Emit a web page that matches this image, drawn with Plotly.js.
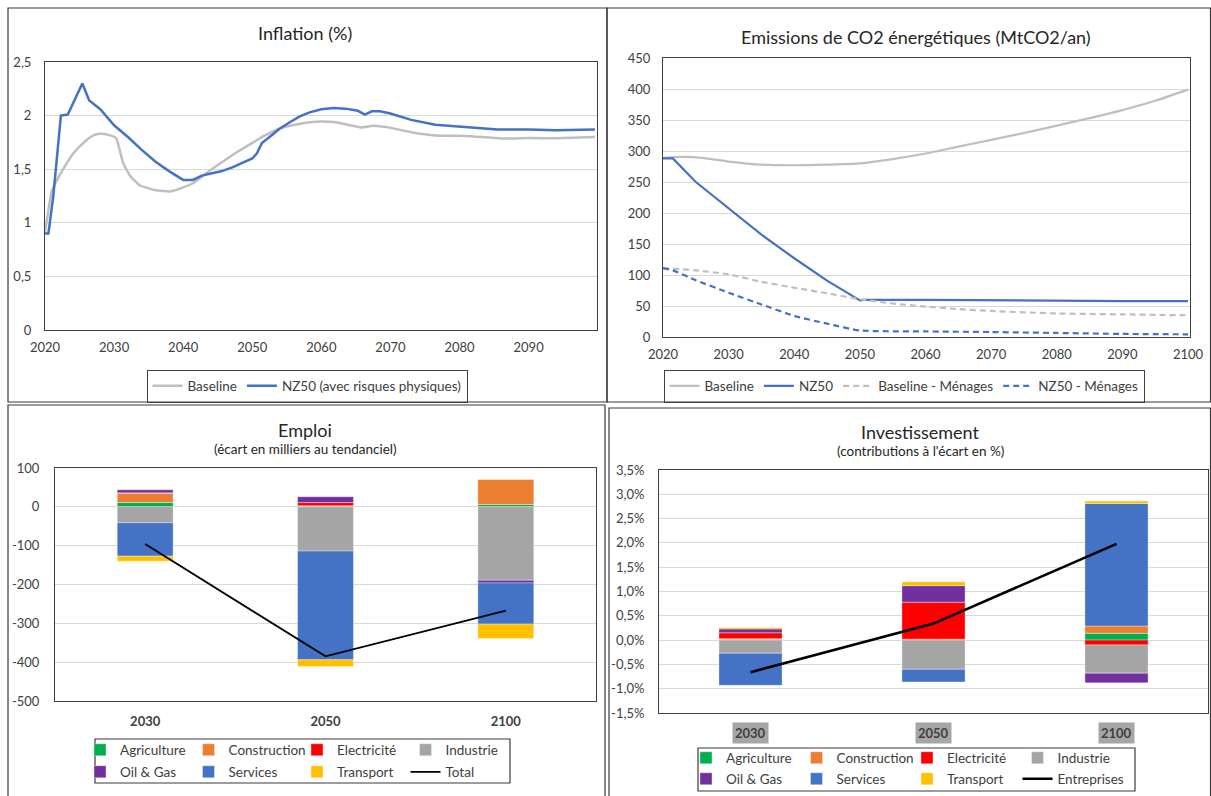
<!DOCTYPE html>
<html><head><meta charset="utf-8">
<script src="https://cdn.plot.ly/plotly-3.0.1.min.js"></script>
<style>html,body{margin:0;padding:0;background:#fff}#chart{width:1211px;height:796px}</style>
</head><body><div id="chart"></div>
<script>
// ---------- Inflation (%) ----------
var infYearsBase = [2020, 2021, 2022, 2023, 2024, 2025, 2026, 2027, 2028, 2029.2, 2030.3, 2031.3, 2032.3, 2033.7, 2035.9, 2038.2, 2040, 2041.6, 2043.5, 2045.5, 2047.8, 2050, 2051.7, 2054, 2056.2, 2058, 2060, 2061.8, 2063.5, 2065.8, 2067.5, 2069.7, 2073, 2076.5, 2081, 2086, 2090, 2094, 2099.6];
var infBase = [0.91, 1.30, 1.43, 1.54, 1.64, 1.71, 1.77, 1.815, 1.83, 1.82, 1.79, 1.56, 1.44, 1.35, 1.305, 1.293, 1.33, 1.376, 1.47, 1.56, 1.66, 1.745, 1.81, 1.88, 1.915, 1.935, 1.946, 1.94, 1.92, 1.89, 1.905, 1.89, 1.845, 1.815, 1.81, 1.786, 1.79, 1.789, 1.80];
var infYearsNZ = [2020, 2020.5, 2021.2, 2022.3, 2023.3, 2025.4, 2026.4, 2028, 2030, 2032, 2034, 2036, 2038, 2040, 2041.4, 2042.7, 2044, 2045.5, 2047.2, 2048.6, 2050, 2050.7, 2051.4, 2052.5, 2054, 2055.5, 2056.8, 2058.3, 2060, 2061.8, 2063.5, 2065.3, 2066.3, 2067.3, 2068.5, 2070, 2073, 2076.5, 2080, 2085.5, 2090, 2094, 2099.6];
var infNZ = [0.9, 0.9, 1.25, 2.0, 2.01, 2.30, 2.14, 2.06, 1.91, 1.80, 1.68, 1.57, 1.48, 1.40, 1.40, 1.44, 1.46, 1.48, 1.52, 1.56, 1.60, 1.65, 1.745, 1.80, 1.88, 1.94, 1.99, 2.03, 2.06, 2.07, 2.065, 2.045, 2.01, 2.04, 2.04, 2.02, 1.96, 1.915, 1.90, 1.87, 1.87, 1.863, 1.87];
var infXTicks = [2020, 2030, 2040, 2050, 2060, 2070, 2080, 2090];
var infYTicks = [0, 0.5, 1, 1.5, 2, 2.5];
var infYTickText = ['0', '0,5', '1', '1,5', '2', '2,5'];

// ---------- Emissions de CO2 (MtCO2/an) ----------
var emiYearsBase = [2020, 2023, 2026, 2030, 2035, 2040, 2045, 2050, 2055, 2060, 2065, 2070, 2075, 2080, 2085, 2090, 2095, 2100];
var emiBase = [289, 290.5, 289, 283, 278, 277, 278, 280, 287, 296, 307, 318, 329, 341, 353, 366, 381, 399];
var emiYearsNZ = [2020, 2021.5, 2025, 2030, 2035, 2040, 2045, 2050, 2050.5, 2060, 2070, 2080, 2090, 2100];
var emiNZ = [288, 288, 250, 207, 165, 127, 91, 59, 60, 60, 59, 58, 58, 58];
var emiYearsBaseMen = [2020, 2025, 2030, 2035, 2040, 2045, 2050, 2055, 2060, 2065, 2070, 2080, 2090, 2100];
var emiBaseMen = [111, 107.5, 101, 89, 79.5, 70.5, 61, 54, 49, 45, 42, 38, 36.5, 35];
var emiYearsNZMen = [2020, 2021.5, 2025, 2030, 2035, 2040, 2045, 2050, 2060, 2070, 2080, 2090, 2100];
var emiNZMen = [111, 107.5, 91.5, 71.5, 52.5, 34, 21.5, 10.5, 9, 8, 6.5, 5, 4.3];
var emiXTicks = [2020, 2030, 2040, 2050, 2060, 2070, 2080, 2090, 2100];
var emiYTicks = [0, 50, 100, 150, 200, 250, 300, 350, 400, 450];

// ---------- Sectors ----------
var sectorNames = ['Agriculture', 'Construction', 'Electricité', 'Industrie', 'Oil & Gas', 'Services', 'Transport'];
var sectorColors = ['#00B050', '#ED7D31', '#FF0000', '#A5A5A5', '#7030A0', '#4472C4', '#FFC000'];

// ---------- Emploi (milliers) ----------
var empCats = ['2030', '2050', '2100'];
var empAgri = [11, 2, 6];
var empConstr = [24, 1, 65];
var empElec = [1, 8, 0];
var empIndus = [-41, -114, -189];
var empOil = [8, 15, -7];
var empServ = [-86, -280, -106];
var empTrans = [-13, -17, -37];
var empTotal = [-96, -385, -267];
var empYTicks = [-500, -400, -300, -200, -100, 0, 100];
var empYTickText = ['-500', '-400', '-300', '-200', '-100', '0', '100'];

// ---------- Investissement (% écart) ----------
var invCats = ['2030', '2050', '2100'];
var invAgri = [0.01, 0.0, 0.14];
var invConstr = [0.02, 0.02, 0.15];
var invElec = [0.12, 0.76, -0.10];
var invIndus = [-0.27, -0.60, -0.58];
var invOil = [0.08, 0.34, -0.20];
var invServ = [-0.66, -0.26, 2.52];
var invTrans = [0.03, 0.08, 0.05];
var invTotal = [-0.66, 0.34, 1.98];
var invYTicks = [-1.5, -1.0, -0.5, 0.0, 0.5, 1.0, 1.5, 2.0, 2.5, 3.0, 3.5];

// ---------- helpers ----------
var W = 1211, H = 796;
function px(x) { return x / W; }
function py(y) { return 1 - y / H; }
var FONT = 'Lato, "Liberation Sans", sans-serif';
var TXT = '#404040';
var GRID = '#d9d9d9';
var AXL = '#404040';
var GRAY = '#bfbfbf';
var BLUE = '#4472C4';

var traces = [];
// Inflation
traces.push({x: infYearsBase, y: infBase, type: 'scatter', mode: 'lines', name: 'Baseline',
  line: {color: GRAY, width: 2.5, shape: 'spline', smoothing: 0.4}, xaxis: 'x', yaxis: 'y', legend: 'legend'});
traces.push({x: infYearsNZ, y: infNZ, type: 'scatter', mode: 'lines', name: 'NZ50 (avec risques physiques)',
  line: {color: BLUE, width: 2.5}, xaxis: 'x', yaxis: 'y', legend: 'legend'});
// Emissions
traces.push({x: emiYearsBase, y: emiBase, type: 'scatter', mode: 'lines', name: 'Baseline',
  line: {color: GRAY, width: 2.2, shape: 'spline', smoothing: 0.6}, xaxis: 'x2', yaxis: 'y2', legend: 'legend2'});
traces.push({x: emiYearsNZ, y: emiNZ, type: 'scatter', mode: 'lines', name: 'NZ50',
  line: {color: BLUE, width: 2.2}, xaxis: 'x2', yaxis: 'y2', legend: 'legend2'});
traces.push({x: emiYearsBaseMen, y: emiBaseMen, type: 'scatter', mode: 'lines', name: 'Baseline - Ménages',
  line: {color: GRAY, width: 2.2, dash: '6px,4px', shape: 'spline', smoothing: 0.6}, xaxis: 'x2', yaxis: 'y2', legend: 'legend2'});
traces.push({x: emiYearsNZMen, y: emiNZMen, type: 'scatter', mode: 'lines', name: 'NZ50 - Ménages',
  line: {color: BLUE, width: 2.2, dash: '6px,4px', shape: 'spline', smoothing: 0.5}, xaxis: 'x2', yaxis: 'y2', legend: 'legend2'});

// Emploi bars
var empSeries = [empAgri, empConstr, empElec, empIndus, empOil, empServ, empTrans];
empSeries.forEach(function (vals, i) {
  traces.push({x: empCats, y: vals, type: 'bar', name: sectorNames[i], width: 0.31,
    marker: {color: sectorColors[i], line: {color: 'rgba(255,255,255,0.6)', width: 0.6}},
    xaxis: 'x3', yaxis: 'y3', legend: i < 4 ? 'legend3' : 'legend4'});
});
traces.push({x: empCats, y: empTotal, type: 'scatter', mode: 'lines', name: 'Total',
  line: {color: '#000000', width: 1.8}, xaxis: 'x3', yaxis: 'y3', legend: 'legend4'});

// Investissement bars
var invSeries = [invAgri, invConstr, invElec, invIndus, invOil, invServ, invTrans];
invSeries.forEach(function (vals, i) {
  traces.push({x: invCats, y: vals, type: 'bar', name: sectorNames[i], width: 0.345,
    marker: {color: sectorColors[i], line: {color: 'rgba(255,255,255,0.6)', width: 0.6}},
    xaxis: 'x4', yaxis: 'y4', legend: i < 4 ? 'legend5' : 'legend6'});
});
traces.push({x: invCats, y: invTotal, type: 'scatter', mode: 'lines', name: 'Entreprises',
  line: {color: '#000000', width: 2.6}, xaxis: 'x4', yaxis: 'y4', legend: 'legend6'});

function axisBase(extra) {
  var a = {showline: true, mirror: true, linecolor: AXL, linewidth: 1, zeroline: false, ticks: '',
    tickfont: {size: 13, color: TXT, family: FONT}, fixedrange: true, automargin: false};
  for (var k in extra) a[k] = extra[k];
  return a;
}

function legendBase(extra) {
  var l = {orientation: 'h', font: {size: 13.5, color: TXT, family: FONT}, bgcolor: 'rgba(0,0,0,0)',
    bordercolor: AXL, borderwidth: 0, itemclick: false, itemdoubleclick: false, traceorder: 'normal'};
  for (var k in extra) l[k] = extra[k];
  return l;
}

var invTickText = invYTicks.map(function (v) { return v.toFixed(1).replace('.', ',') + '%'; });

function title(text, x, y, size) {
  return {text: text, x: px(x), y: py(y), xref: 'paper', yref: 'paper', xanchor: 'center', yanchor: 'middle',
    showarrow: false, font: {size: size, color: '#262626', family: FONT}};
}
var annotations = [
  title('Inflation (%)', 305, 33, 18),
  title('Emissions de CO2 énergétiques (MtCO2/an)', 916, 37, 18),
  title('Emploi', 305, 430, 18),
  title('(écart en milliers au tendanciel)', 305, 449, 13.5),
  title('Investissement', 920, 432, 18),
  title("(contributions à l'écart en %)", 920, 451, 13.5)
];
invCats.forEach(function (c, i) {
  annotations.push({text: '<b>' + c + '</b>', x: i, y: py(733), xref: 'x4', yref: 'paper', xanchor: 'center', yanchor: 'middle',
    showarrow: false, bgcolor: '#a6a6a6', borderpad: 2, font: {size: 13, color: TXT, family: FONT}});
});

function rect(x0, y0, x1, y1) {
  return {type: 'rect', xref: 'paper', yref: 'paper', x0: px(x0), x1: px(x1), y0: py(y1), y1: py(y0),
    line: {color: '#3a3a3a', width: 1.2}, fillcolor: 'rgba(0,0,0,0)', layer: 'above'};
}
var shapes = [
  rect(8, 8, 607, 402), rect(607, 8, 1210.5, 402),
  rect(8, 405, 605, 796.5), rect(609, 408, 1210.5, 796.5),
  rect(95, 739, 510, 783), rect(698, 748, 1135, 791)
];

var layout = {
  width: W, height: H, margin: {l: 0, r: 0, t: 0, b: 0, autoexpand: false}, paper_bgcolor: '#ffffff', plot_bgcolor: '#ffffff',
  font: {family: FONT, color: TXT, size: 13}, barmode: 'relative', showlegend: true, hovermode: false,
  xaxis: axisBase({domain: [px(45), px(597)], range: [2020, 2099.9], tickvals: infXTicks, showgrid: false, anchor: 'y', ticklabelstandoff: 5}),
  yaxis: axisBase({domain: [py(330), py(62)], range: [0, 2.5], tickvals: infYTicks, ticktext: infYTickText, showgrid: true, gridcolor: GRID, anchor: 'x', ticklabelstandoff: 10}),
  xaxis2: axisBase({domain: [px(663), px(1190)], range: [2020, 2100.3], tickvals: emiXTicks, showgrid: false, anchor: 'y2', ticklabelstandoff: 5}),
  yaxis2: axisBase({domain: [py(337), py(58)], range: [0, 450], tickvals: emiYTicks, showgrid: true, gridcolor: GRID, anchor: 'x2', ticklabelstandoff: 9}),
  xaxis3: axisBase({domain: [px(55), px(596)], type: 'category', range: [-0.5, 2.5], showgrid: false, anchor: 'y3', ticklabelstandoff: 8,
    tickfont: {size: 13, color: TXT, family: FONT, weight: 'bold'}}),
  yaxis3: axisBase({domain: [py(701), py(468)], range: [-500, 100], tickvals: empYTicks, ticktext: empYTickText, showgrid: true, gridcolor: GRID, anchor: 'x3', ticklabelstandoff: 12}),
  xaxis4: axisBase({domain: [px(659), px(1208)], type: 'category', range: [-0.5, 2.5], showgrid: false, anchor: 'y4', showticklabels: false}),
  yaxis4: axisBase({domain: [py(713), py(470)], range: [-1.5, 3.5], tickvals: invYTicks, ticktext: invTickText, showgrid: true, gridcolor: GRID, anchor: 'x4', ticklabelstandoff: 11}),
  legend: legendBase({x: px(307), y: py(386), xanchor: 'center', yanchor: 'middle', borderwidth: 1}),
  legend2: legendBase({x: px(904), y: py(386), xanchor: 'center', yanchor: 'middle', borderwidth: 1}),
  legend3: legendBase({x: px(80), y: py(750), xanchor: 'left', yanchor: 'middle', entrywidth: 63.5}),
  legend4: legendBase({x: px(80), y: py(772), xanchor: 'left', yanchor: 'middle', entrywidth: 63.5}),
  legend5: legendBase({x: px(686), y: py(758), xanchor: 'left', yanchor: 'middle', entrywidth: 65.5}),
  legend6: legendBase({x: px(686), y: py(779), xanchor: 'left', yanchor: 'middle', entrywidth: 65.5}),
  annotations: annotations,
  shapes: shapes
};

Plotly.newPlot('chart', traces, layout, {displayModeBar: false, staticPlot: true});
</script></body></html>
